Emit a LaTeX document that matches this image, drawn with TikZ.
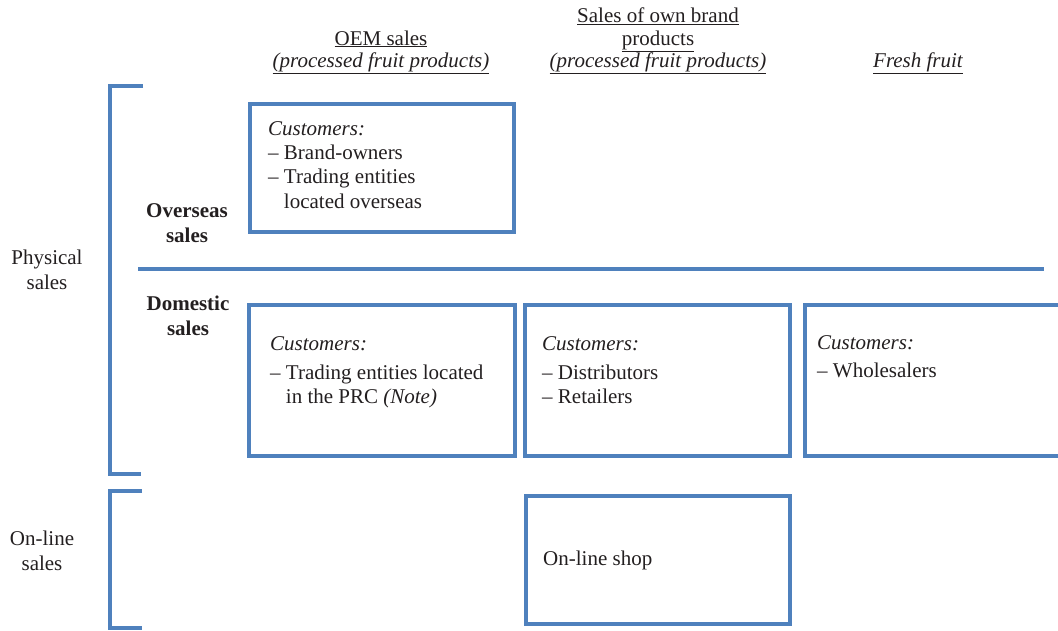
\documentclass[tikz,border=0pt]{standalone}
\usepackage{fontspec}
\setmainfont{Liberation Serif}
\definecolor{frame}{HTML}{4F81BD}
\definecolor{ink}{HTML}{231F20}
\tikzset{
  every node/.style={font=\fontsize{21}{24.5}\selectfont, text=ink, inner sep=0pt},
  panel/.style={draw=frame, line width=4pt, rectangle},
  rule/.style={draw=frame, line width=4pt},
  label/.style={anchor=base, align=center},
  heading/.style={anchor=base, align=center, font=\fontsize{21}{22.5}\selectfont},
  bold label/.style={anchor=base, align=center, font=\fontsize{21}{24.5}\selectfont\bfseries},
  entry/.style={anchor=base west, align=left},
}
\begin{document}
\begin{tikzpicture}[x=1pt,y=-1pt]
  \useasboundingbox (0,0) rectangle (1058,630);
  \clip (0,0) rectangle (1058,630);

  % column headings (anchored at the baseline of the last line)
  \node[heading] (hOEM) at (381,67.5) {\underline{OEM sales}\\\underline{\itshape(processed fruit products)}};
  \node[heading] (hOwn) at (658,67.5) {\underline{Sales of own brand}\\\underline{products}\\\underline{\itshape(processed fruit products)}};
  \node[heading] (hFresh) at (918,67.5) {\underline{\itshape Fresh fruit}};

  % brackets grouping the sales channels
  \draw[rule] (143,86) -- (110,86) -- (110,474) -- (141,474);
  \draw[rule] (142,491) -- (110,491) -- (110,628) -- (142,628);
  \draw[rule] (138,269) -- (1044,269);

  % row labels
  \node[label] (physical) at (47,289) {Physical\\sales};
  \node[label] (online) at (42,570) {On-line\\sales};
  \node[bold label] (overseas) at (187,242) {Overseas\\sales};
  \node[bold label] (domestic) at (188,335) {Domestic\\sales};

  % customer panels
  \node[panel, minimum width=264, minimum height=128] (oOEM) at (382,168) {};
  \node[panel, minimum width=266, minimum height=151] (dOEM) at (382,380.5) {};
  \node[panel, minimum width=265, minimum height=151] (dOwn) at (657.5,380.5) {};
  \node[panel, minimum width=290, minimum height=151, anchor=west] (dFresh) at (803,380.5) {};
  \node[panel, minimum width=264, minimum height=128] (shop) at (658,560) {};

  % panel contents
  \node[entry, font=\fontsize{21}{24.3}\selectfont] (tOverseas) at (268,208) {\itshape Customers:\\– Brand-owners\\– Trading entities\\\hphantom{– }located overseas};
  \node[entry, font=\fontsize{21}{23.5}\selectfont] (tDomOEM) at (270,403) {\itshape Customers:\\[6pt]– Trading entities located\\\hphantom{– }in the PRC \textit{(Note)}};
  \node[entry, font=\fontsize{21}{23.5}\selectfont] (tDomOwn) at (542,403) {\itshape Customers:\\[6pt]– Distributors\\– Retailers};
  \node[entry, font=\fontsize{21}{23.5}\selectfont] (tDomFresh) at (817,377) {\itshape Customers:\\[4.5pt]– Wholesalers};
  \node[entry] (tShop) at (543,565) {On-line shop};
\end{tikzpicture}
\end{document}
